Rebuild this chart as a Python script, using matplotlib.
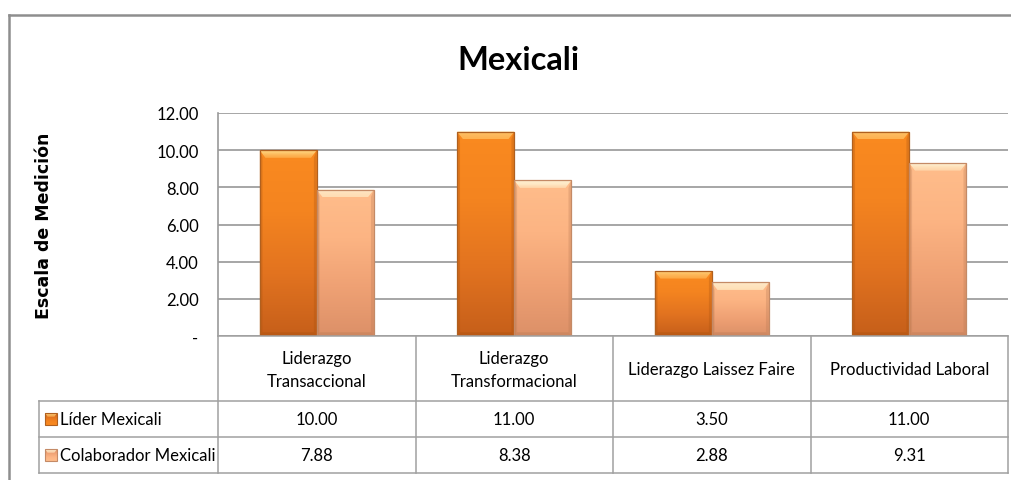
import numpy as np
import matplotlib
matplotlib.use("Agg")
import matplotlib.pyplot as plt
from matplotlib.patches import Polygon, Rectangle
from matplotlib.colors import LinearSegmentedColormap, to_rgb
from matplotlib.lines import Line2D

# ---- data ----
categories = ["Liderazgo\nTransaccional", "Liderazgo\nTransformacional",
              "Liderazgo Laissez Faire", "Productividad Laboral"]
series_names = ["Líder Mexicali", "Colaborador Mexicali"]
lider = [10.00, 11.00, 3.50, 11.00]
colaborador = [7.88, 8.38, 2.88, 9.31]
yticks = [0, 2, 4, 6, 8, 10, 12]
ytick_labels = ["-", "2.00", "4.00", "6.00", "8.00", "10.00", "12.00"]
title = "Mexicali"
ylabel = "Escala de Medición"

FONT = ["Lato", "DejaVu Sans"]
plt.rcParams["font.family"] = FONT
FS = 12

W, H = 1011, 481
fig = plt.figure(figsize=(W / 100, H / 100), dpi=100)
fig.patch.set_facecolor("white")

# layout in pixels
PL, PR, PT, PB = 218, 1008, 114, 337
ROW1, ROW2, ROW3 = 402, 438, 474
LEG_L = 39

ax = fig.add_axes([PL / W, 1 - PB / H, (PR - PL) / W, (PB - PT) / H])
ax.set_xlim(-0.5, len(categories) - 0.5)
ax.set_ylim(0, 12)
ax.set_yticks(yticks)
ax.set_yticklabels(ytick_labels, fontsize=FS)
ax.tick_params(axis="y", length=0, pad=14)
ax.set_xticks([])
for s in ["top", "right", "bottom"]:
    ax.spines[s].set_visible(False)
ax.spines["left"].set_color("#9a9a9a")
ax.spines["left"].set_linewidth(1.2)
ax.yaxis.grid(True, color="#a6a6a6", linewidth=1.4)
ax.set_axisbelow(True)

grad_lider = LinearSegmentedColormap.from_list(
    "lider", ["#c65f1a", "#e27320", "#f4841f", "#fa8a20"])
grad_colab = LinearSegmentedColormap.from_list(
    "colab", ["#dc9068", "#efa174", "#fcb483", "#ffbd8b"])
bevel_top = {"l": "#ffd885", "c": "#fff8dc"}
bevel_bot = {"l": "#ffb24e", "c": "#ffdcb2"}
bottom_c = {"l": "#a9520f", "c": "#b97a55"}
edge_c = {"l": "#b0601f", "c": "#c48a66"}

bw = 0.289
x = np.arange(len(categories))


def mix(c1, c2, t):
    a, b = np.array(to_rgb(c1)), np.array(to_rgb(c2))
    return tuple(a + (b - a) * t)


def top_bevel(target, x0, x1, top, depth, dx, key, z, n=8):
    """Trapezoid bevel built from thin slices shading from light to bar tone."""
    for k in range(n):
        t0, t1 = k / n, (k + 1) / n
        ya, yb = top - depth * t0, top - depth * t1
        pts = [(x0 + dx * t0, ya), (x1 - dx * t0, ya),
               (x1 - dx * t1, yb), (x0 + dx * t1, yb)]
        target.add_patch(Polygon(pts, closed=True,
                                 facecolor=mix(bevel_top[key], bevel_bot[key], t0),
                                 edgecolor="none", zorder=z, antialiased=True))


def fancy_bars(xs, vals, cmap, key):
    bars = ax.bar(xs, vals, width=bw, color="none", edgecolor="none", zorder=3)
    for b in bars:
        x0, y0 = b.get_x(), b.get_y()
        w, h = b.get_width(), b.get_height()
        grad = np.linspace(0, 1, 256).reshape(-1, 1)
        im = ax.imshow(grad, cmap=cmap, aspect="auto", origin="lower",
                       extent=(x0, x0 + w, y0, y0 + h), zorder=3)
        im.set_clip_path(b)
        bh = 0.4
        dx = w * 0.1
        top = y0 + h
        # darker side and bottom edges
        sd = dx * 0.5
        bb = 0.2
        for pts, a in (([(x0, top), (x0 + sd, top - bh), (x0 + sd, y0 + bb), (x0, y0)], 0.3),
                       ([(x0 + w, top), (x0 + w - sd, top - bh),
                         (x0 + w - sd, y0 + bb), (x0 + w, y0)], 0.3),
                       ([(x0, y0), (x0 + w, y0), (x0 + w - sd, y0 + bb),
                         (x0 + sd, y0 + bb)], 0.4)):
            ax.add_patch(Polygon(pts, closed=True, facecolor=bottom_c[key],
                                 alpha=a, edgecolor="none", zorder=4))
        top_bevel(ax, x0, x0 + w, top, bh, dx, key, 5)
        ax.add_patch(Rectangle((x0, y0), w, h, facecolor="none",
                               edgecolor=edge_c[key], linewidth=0.9, zorder=6))
    ax.set_xlim(-0.5, len(categories) - 0.5)
    ax.set_ylim(0, 12)


fancy_bars(x - bw / 2, lider, grad_lider, "l")
fancy_bars(x + bw / 2, colaborador, grad_colab, "c")

# overlay in pixel coordinates for frame, title, label and data table
top_ov = fig.add_axes([0, 0, 1, 1], zorder=5)
top_ov.set_xlim(0, W)
top_ov.set_ylim(H, 0)
top_ov.axis("off")
top_ov.patch.set_alpha(0)

# outer chart frame
top_ov.add_line(Line2D([8.5, 1012], [15.5, 15.5], color="#8e8e8e", lw=1.8))
top_ov.add_line(Line2D([8.5, 8.5], [15.5, 482], color="#8e8e8e", lw=1.8))

top_ov.text(518, 61, title, fontsize=23.5, fontweight="bold",
            ha="center", va="center", color="black")
top_ov.text(44, (PT + PB) / 2, ylabel, fontsize=12.5, fontweight="bold",
            rotation=90, ha="center", va="center", color="black",
            family="DejaVu Sans")

# table grid
lc, lw = "#a0a0a0", 1.1
ncat = len(categories)
colw = (PR - PL) / ncat
cols = [PL + i * colw for i in range(ncat + 1)]
for cx in cols:
    top_ov.add_line(Line2D([cx, cx], [PB, ROW3], color=lc, lw=lw))
top_ov.add_line(Line2D([LEG_L, LEG_L], [ROW1, ROW3], color=lc, lw=lw))
top_ov.add_line(Line2D([PL, PR], [PB, PB], color=lc, lw=lw))
for ry in (ROW1, ROW2, ROW3):
    top_ov.add_line(Line2D([LEG_L, PR], [ry, ry], color=lc, lw=lw))

for i, cat in enumerate(categories):
    cx = (cols[i] + cols[i + 1]) / 2
    top_ov.text(cx, (PB + ROW1) / 2 + 1, cat, fontsize=FS, ha="center",
                va="center", linespacing=1.5)
    top_ov.text(cx, (ROW1 + ROW2) / 2, f"{lider[i]:.2f}", fontsize=FS,
                ha="center", va="center")
    top_ov.text(cx, (ROW2 + ROW3) / 2, f"{colaborador[i]:.2f}", fontsize=FS,
                ha="center", va="center")

# legend keys inside the table
for (ry0, ry1), cmap, key, name in [((ROW1, ROW2), grad_lider, "l", series_names[0]),
                                     ((ROW2, ROW3), grad_colab, "c", series_names[1])]:
    cy = (ry0 + ry1) / 2
    k0, k1 = 45, 57
    kt, kb = cy - 6, cy + 6
    grad = np.linspace(0, 1, 64).reshape(-1, 1)
    top_ov.imshow(grad, cmap=cmap, aspect="auto", origin="upper",
                  extent=(k0, k1, kb, kt), zorder=3)
    top_bevel(top_ov, k0, k1, kt, -3.5, 2.5, key, 4, n=4)
    top_ov.add_patch(Rectangle((k0, kt), k1 - k0, kb - kt, facecolor="none",
                               edgecolor=edge_c[key], lw=0.8, zorder=6))
    top_ov.text(59.5, cy, name, fontsize=FS, ha="left", va="center")
top_ov.set_xlim(0, W)
top_ov.set_ylim(H, 0)

fig.savefig("out.png", dpi=100)
